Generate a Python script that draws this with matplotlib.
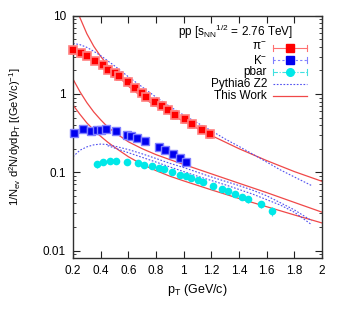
import matplotlib
matplotlib.use("Agg")
import matplotlib.pyplot as plt
from matplotlib.lines import Line2D
from matplotlib.ticker import FixedLocator, LogLocator, NullFormatter, MultipleLocator

plt.rcParams['font.family'] = ['Liberation Sans', 'DejaVu Sans']
plt.rcParams['mathtext.fontset'] = 'custom'
plt.rcParams['mathtext.rm'] = 'Liberation Sans'
plt.rcParams['mathtext.it'] = 'Liberation Sans'
plt.rcParams['mathtext.default'] = 'regular'

# ---- data ----
pion_pt = [0.20, 0.26, 0.30, 0.36, 0.42, 0.45, 0.50, 0.53, 0.60, 0.65, 0.70, 0.73, 0.79, 0.84, 0.89, 0.94, 1.01, 1.06, 1.13, 1.19]
pion_y = [3.6, 3.35, 3.1, 2.65, 2.35, 2.05, 1.85, 1.7, 1.43, 1.2, 1.04, 0.92, 0.78, 0.71, 0.63, 0.54, 0.48, 0.41, 0.35, 0.305]
pion_err = [0.40, 0.35, 0.30, 0.25, 0.22, 0.20, 0.18, 0.17, 0.14, 0.12, 0.10, 0.09, 0.07, 0.07, 0.06, 0.06, 0.05, 0.04, 0.035, 0.03]

kaon_pt = [0.21, 0.27, 0.33, 0.375, 0.405, 0.435, 0.51, 0.59, 0.62, 0.665, 0.72, 0.82, 0.865, 0.92, 0.975, 1.02]
kaon_y = [0.32, 0.36, 0.335, 0.345, 0.35, 0.355, 0.335, 0.30, 0.29, 0.27, 0.25, 0.21, 0.19, 0.17, 0.15, 0.134]
kaon_err = [0.03, 0.03, 0.025, 0.025, 0.025, 0.025, 0.025, 0.02, 0.02, 0.02, 0.018, 0.015, 0.014, 0.012, 0.011, 0.01]

pbar_pt = [0.37, 0.42, 0.47, 0.51, 0.59, 0.67, 0.715, 0.77, 0.82, 0.86, 0.915, 0.975, 1.02, 1.05, 1.10, 1.14, 1.21, 1.28, 1.32, 1.37, 1.42, 1.465, 1.56, 1.635]
pbar_y = [0.126, 0.134, 0.139, 0.139, 0.134, 0.131, 0.125, 0.119, 0.113, 0.110, 0.102, 0.092, 0.089, 0.085, 0.079, 0.074, 0.067, 0.061, 0.057, 0.053, 0.048, 0.045, 0.039, 0.032]
pbar_err = [0.012, 0.012, 0.012, 0.010, 0.008, 0.008, 0.008, 0.008, 0.008, 0.008, 0.007, 0.007, 0.006, 0.006, 0.006, 0.005, 0.005, 0.005, 0.005, 0.004, 0.004, 0.004, 0.004, 0.004]

# "This Work" curves
tw_pt = [0.2, 0.244, 0.3, 0.35, 0.4, 0.45, 0.5, 0.6, 0.7, 0.8, 0.9, 1.0, 1.2, 1.4, 1.6, 1.8, 2.0]
tw_pion = [15.8, 10.0, 5.89, 4.07, 3.02, 2.34, 1.86, 1.26, 0.912, 0.700, 0.556, 0.447, 0.295, 0.200, 0.141, 0.102, 0.0766]
tw_pt2 = [0.2, 0.25, 0.3, 0.35, 0.4, 0.45, 0.5, 0.6, 0.7, 0.8, 0.9, 1.0, 1.2, 1.4, 1.6, 1.8, 2.0]
tw_kaon = [1.55, 1.07, 0.776, 0.589, 0.468, 0.380, 0.324, 0.245, 0.200, 0.168, 0.145, 0.126, 0.0955, 0.0724, 0.0550, 0.0412, 0.0309]
tw_pbar = [0.724, 0.550, 0.427, 0.347, 0.288, 0.243, 0.209, 0.158, 0.126, 0.105, 0.0891, 0.0776, 0.0596, 0.0462, 0.0363, 0.0285, 0.0225]

# Pythia6 Z2 curves
py_pt = [0.2, 0.25, 0.3, 0.35, 0.4, 0.45, 0.5, 0.6, 0.7, 0.8, 0.9, 1.0, 1.1, 1.2, 1.3, 1.4, 1.5, 1.6, 1.7, 1.8, 1.925]
py_pion = [4.42, 4.27, 3.94, 3.51, 3.09, 2.66, 2.29, 1.66, 1.23, 0.912, 0.692, 0.537, 0.427, 0.339, 0.266, 0.214, 0.170, 0.135, 0.107, 0.0871, 0.0676]
py_kaon = [0.158, 0.191, 0.211, 0.224, 0.229, 0.226, 0.216, 0.195, 0.172, 0.150, 0.130, 0.115, 0.100, 0.0871, 0.0767, 0.0676, 0.0589, 0.0501, 0.0407, 0.0331, 0.0240]
py_pt_p = [0.45, 0.5, 0.6, 0.7, 0.8, 0.9, 1.0, 1.1, 1.2, 1.3, 1.4, 1.5, 1.6, 1.7, 1.8, 1.925]
py_pbar = [0.219, 0.204, 0.178, 0.155, 0.135, 0.117, 0.102, 0.0891, 0.0785, 0.0692, 0.0603, 0.0525, 0.0447, 0.0380, 0.0309, 0.0214]

xticks = [0.2, 0.4, 0.6, 0.8, 1.0, 1.2, 1.4, 1.6, 1.8, 2.0]
xticklabels = ['0.2', '0.4', '0.6', '0.8', '1', '1.2', '1.4', '1.6', '1.8', '2']
yticks = [0.01, 0.1, 1, 10]
yticklabels = ['0.01', '0.1', '1', '10']

# ---- colours ----
c_red = '#ff0000'
c_blue = '#0000ee'
c_cyan = '#00e8e8'
c_tw = '#f04848'
c_py = '#5050f0'

W, H = 346, 309
fig = plt.figure(figsize=(W / 100, H / 100), dpi=100)
ax = fig.add_axes([73 / W, 1 - 257.7 / H, (322 - 73) / W, (257.7 - 15.7) / H])
ax.set_yscale('log')
ax.set_xlim(0.2, 2.0)
ax.set_ylim(0.0081, 10)

# curves
ax.plot(tw_pt, tw_pion, color=c_tw, lw=0.9, zorder=2)
ax.plot(tw_pt2, tw_kaon, color=c_tw, lw=0.9, zorder=2)
ax.plot(tw_pt2, tw_pbar, color=c_tw, lw=0.9, zorder=2)
pyls = (0, (1.5, 1.5))
ax.plot(py_pt, py_pion, color=c_py, lw=0.8, ls=pyls, zorder=2)
ax.plot(py_pt, py_kaon, color=c_py, lw=0.8, ls=pyls, zorder=2)
ax.plot(py_pt_p, py_pbar, color=c_py, lw=0.8, ls=pyls, zorder=2)

# data
for art in [
    ax.errorbar(pion_pt, pion_y, yerr=pion_err, fmt='s', color=c_red, ms=5.5, mec='#ff8080', mew=1.2,
                ecolor='#ff7070', elinewidth=0.8, capsize=2.5, capthick=0.8, zorder=4),
    ax.errorbar(kaon_pt, kaon_y, yerr=kaon_err, fmt='s', color=c_blue, ms=5.5, mec='#8080ff', mew=1.0,
                ecolor='#8080ff', elinewidth=0.8, capsize=2.5, capthick=0.8, zorder=4),
    ax.errorbar(pbar_pt, pbar_y, yerr=pbar_err, fmt='o', color=c_cyan, ms=5.5, mec=c_cyan, mew=0,
                ecolor='#40e0e0', elinewidth=0.8, capsize=2.5, capthick=0.8, zorder=4),
]:
    for child in art.get_children():
        child.set_clip_on(False)

# axes style
ax.xaxis.set_major_locator(FixedLocator(xticks))
ax.set_xticklabels(xticklabels)
ax.yaxis.set_major_locator(FixedLocator(yticks))
ax.set_yticklabels(yticklabels)
ax.yaxis.set_minor_locator(LogLocator(base=10, subs=range(2, 10)))
ax.yaxis.set_minor_formatter(NullFormatter())
ax.tick_params(which='both', direction='in', top=True, right=True, labelsize=8.5, color='#202020')
ax.tick_params(which='major', length=5, width=0.8, pad=5)
ax.tick_params(which='minor', length=2.5, width=0.6)
for s in ax.spines.values():
    s.set_color('#303030')
    s.set_linewidth(1.0)

ax.set_xlabel(r'p$_{T}$ (GeV/c)', fontsize=9, labelpad=4)
ax.set_ylabel(r'1/N$_{ev}$ d$^{2}$N/dydp$_{T}$ [(GeV/c)$^{-1}$]', fontsize=8, labelpad=14)

# title text inside plot
fig.text(293 / W, 1 - 31.5 / H, r'pp [s$_{NN}$$^{1/2}$ = 2.76 TeV]', ha='right', va='center', fontsize=8.5)

# manual gnuplot-style legend
labels = [r'$\pi^{-}$', r'K$^{-}$', 'pbar', 'Pythia6 Z2', 'This Work']
rows = [47.7, 60.3, 71.5, 83.5, 95.7]
x1, x2, xm = 273 / W, 307 / W, 290 / W
for lab, yy in zip(labels, rows):
    fig.text(267 / W, 1 - yy / H, lab, ha='right', va='center', fontsize=8.5)

def legline(yy, color, ls, lw, marker=None, mcolor=None, caps=False, capcolor=None):
    yf = 1 - yy / H
    fig.add_artist(Line2D([x1, x2], [yf, yf], transform=fig.transFigure, color=color, ls=ls, lw=lw))
    if caps:
        dy = 3 / H
        for xx in (x1, x2):
            fig.add_artist(Line2D([xx, xx], [yf - dy, yf + dy], transform=fig.transFigure, color=capcolor, lw=0.8))
    if marker:
        fig.add_artist(Line2D([xm], [yf], transform=fig.transFigure, marker=marker, color=mcolor, ms=5.5, ls='none'))

legline(rows[0], '#ff7070', '-', 0.8, 's', c_red, True, '#ff7070')
legline(rows[1], '#8080ff', (0, (2, 2)), 0.8, 's', c_blue, True, '#8080ff')
legline(rows[2], '#40e0e0', (0, (4, 1.5, 1, 1.5)), 0.8, 'o', c_cyan, True, '#40e0e0')
legline(rows[3], c_py, pyls, 0.8)
legline(rows[4], c_tw, '-', 0.9)

fig.savefig('out.png', dpi=100)
